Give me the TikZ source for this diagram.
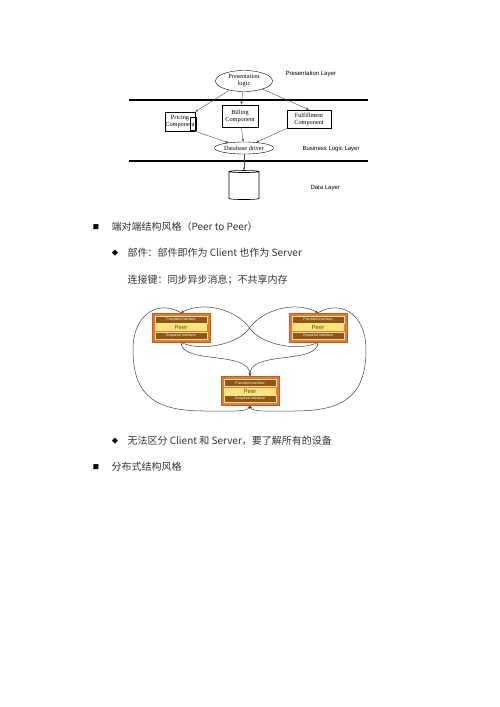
\documentclass[tikz,border=0pt]{standalone}
\usepackage{fontspec}
\setmainfont{Liberation Serif}
\setsansfont{Liberation Sans}
\newfontfamily\cjk{Noto Sans CJK SC}
\usetikzlibrary{shapes.geometric,arrows.meta}
\definecolor{peerorange}{HTML}{E8792B}
\definecolor{peerbrown}{HTML}{8C5A0A}
\definecolor{peeryellow}{HTML}{F8E47A}
\definecolor{bodytext}{HTML}{333333}

\begin{document}
\begin{tikzpicture}[x=1pt,y=-1pt,
    comp/.style={draw,line width=0.7pt,align=center,inner sep=0pt,font=\fontsize{6.3}{7}\selectfont},
    oval/.style={draw,ellipse,inner sep=0pt,align=center,font=\fontsize{6.3}{7}\selectfont},
    layer/.style={anchor=west,font=\sffamily\fontsize{6}{7}\selectfont},
    flow/.style={draw=black!70,line width=0.4pt,-{Stealth[length=3pt,width=2.4pt]}},
    band/.style={line width=1.1pt},
    peerline/.style={draw=black!75,line width=0.5pt},
    tip/.style={-{Stealth[length=3pt,width=2.6pt]}},
    bullet/.style={anchor=center,text=black,font=\cjk\fontsize{6.3}{6.3}\selectfont},
    line/.style={anchor=west,text=bodytext,font=\cjk\fontsize{10}{11}\selectfont}]
  \useasboundingbox (0,0) rectangle (500,707);

  % three layers
  \node[oval,minimum width=57pt,minimum height=21pt] (pres) at (244,81) {Presentation\\logic};
  \node[comp,minimum width=30pt,minimum height=19pt] (pricing) at (180,121.5) {Pricing\\Component};
  \draw[line width=0.7pt] (190,117) rectangle (196,130);
  \node[comp,line width=1pt,minimum width=36pt,minimum height=22pt] (billing) at (240,116) {Billing\\Component};
  \node[comp,minimum width=44pt,minimum height=18pt] (fulfil) at (309,119) {Fulfillment\\Component};
  \node[oval,minimum width=59pt,minimum height=12pt] (dbdriver) at (244,148) {Database driver};
  \node[draw,cylinder,shape border rotate=90,aspect=0.3,minimum width=30pt,minimum height=29pt,line width=0.6pt] (store) at (244,186) {};
  \draw[band] (129,100) -- (368,100);
  \draw[band] (129,161) -- (368,161);
  \node[layer] (lpres) at (282,74) {Presentation Layer};
  \node[layer] (lbus) at (299,149) {Business Logic Layer};
  \node[layer] (ldata) at (307,188) {Data Layer};
  \draw[flow] (pres) -- (pricing.north east);
  \draw[flow] (pres) -- (billing);
  \draw[flow] (pres) -- (fulfil.north);
  \draw[flow] (pricing.south east) -- (dbdriver);
  \draw[flow] (billing) -- (dbdriver);
  \draw[flow] (fulfil.south west) -- (dbdriver);
  \draw[flow] (dbdriver) -- (store.top);

  % text lines
  \node[bullet] (b1) at (96,227) {■};
  \node[line] (t1) at (108,227) {端对端结构风格（Peer to Peer）};
  \node[bullet] (b2) at (115,253) {◆};
  \node[line] (t2) at (124,253) {部件：部件即作为 Client 也作为 Server};
  \node[line] (t3) at (124,280) {连接键：同步异步消息；不共享内存};
  \node[bullet] (b4) at (115,441) {◆};
  \node[line] (t4) at (124,441) {无法区分 Client 和 Server，要了解所有的设备};
  \node[bullet] (b5) at (96,467) {■};
  \node[line] (t5) at (108,467) {分布式结构风格};

  % peers
  \foreach \n/\x/\y in {pA/181/327.5, pB/318/327.5, pC/250/391} {
    \node[draw=peerorange!80!black,fill=peerorange,line width=0.4pt,minimum width=58pt,minimum height=29pt,inner sep=0pt] (\n) at (\x,\y) {};
    \node[fill=peerbrown,draw=white!70!peerorange,line width=0.3pt,minimum width=52pt,minimum height=7pt,inner sep=0pt,text=white,font=\sffamily\fontsize{3.6}{4}\selectfont] (\n prov) at (\x,\y-8) {Provided Interface};
    \node[fill=peeryellow,minimum width=52pt,minimum height=7pt,inner sep=0pt,text=peerbrown!80!black,font=\sffamily\fontsize{6}{6}\selectfont] (\n peer) at (\x,\y) {Peer};
    \node[fill=peerbrown,draw=white!70!peerorange,line width=0.3pt,minimum width=52pt,minimum height=7pt,inner sep=0pt,text=white,font=\sffamily\fontsize{3.6}{4}\selectfont] (\n req) at (\x,\y+8) {Required Interface};
  }
  \coordinate (mid) at (249.5,328);
  \draw[peerline,tip] (pB.south) .. controls (300,352) and (261,345) .. (mid) .. controls (238,311) and (205,300) .. (pA.north);
  \draw[peerline,tip] (pA.south) .. controls (199,352) and (238,345) .. (mid) .. controls (261,311) and (294,300) .. (pB.north);
  \draw[peerline,tip] (pA.south) .. controls (181,365) and (249.5,350) .. (pC.north);
  \draw[peerline,tip] (pB.south) .. controls (318,365) and (249.5,350) .. (pC.north);
  \draw[peerline,tip] (pA.north) .. controls (160,300) and (133,312) .. (133,350) .. controls (133,398) and (158,411) .. (205,411) .. controls (232,411) and (247,412) .. (pC.south);
  \draw[peerline,tip] (pB.north) .. controls (339,300) and (366,312) .. (366,350) .. controls (366,398) and (341,411) .. (294,411) .. controls (267,411) and (252,412) .. (pC.south);
\end{tikzpicture}
\end{document}
